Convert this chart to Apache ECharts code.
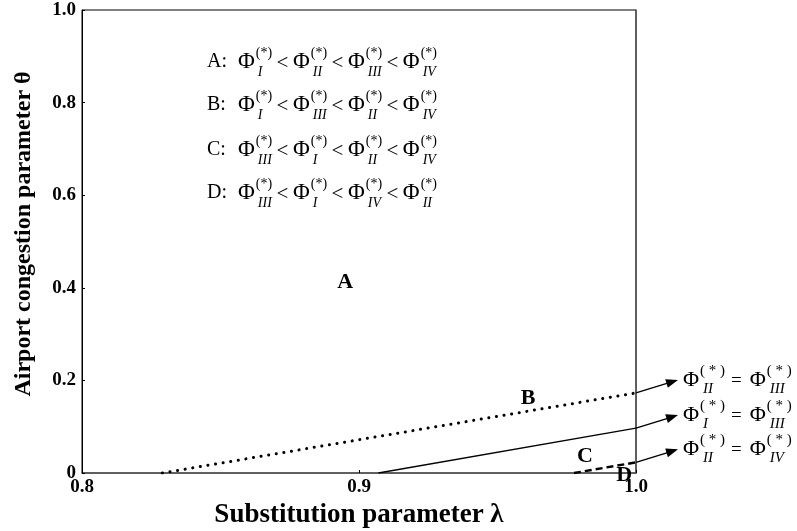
<!DOCTYPE html>
<html>
<head>
<meta charset="utf-8">
<script src="https://cdn.jsdelivr.net/npm/echarts@6/dist/echarts.min.js"></script>
<style>
  html, body { margin: 0; padding: 0; background: #fff; }
  #chart { width: 797px; height: 531px; }
</style>
</head>
<body>
<div id="chart"></div>
<script>
// Boundary curves in the (λ, θ) plane
const dottedLambda = [0.829, 1.0];
const dottedTheta = [0, 0.173];
const solidLambda = [0.907, 1.0];
const solidTheta = [0, 0.097];
const dashedLambda = [0.9776, 1.0];
const dashedTheta = [0, 0.023];

// Equality each boundary stands for: Φ_left = Φ_right
const boundaryLeftSub = ['II', 'I', 'II'];
const boundaryRightSub = ['III', 'III', 'IV'];

// Region labels and where they sit (data units)
const regionNames = ['A', 'B', 'C', 'D'];
const regionLambda = [0.895, 0.961, 0.9816, 0.9957];
const regionTheta = [0.4125, 0.162, 0.037, -0.006];

// Ordering of Φ in each region
const regionOrder = [
  ['I', 'II', 'III', 'IV'],
  ['I', 'III', 'II', 'IV'],
  ['III', 'I', 'II', 'IV'],
  ['III', 'I', 'IV', 'II']
];

// Axis ticks
const xTicks = [0.8, 0.9, 1.0];
const xTickLabels = ['0.8', '0.9', '1.0'];
const yTicks = [0, 0.2, 0.4, 0.6, 0.8, 1.0];
const yTickLabels = ['0', '0.2', '0.4', '0.6', '0.8', '1.0'];

const xTitle = 'Substitution parameter λ';
const yTitle = 'Airport congestion parameter θ';

const SERIF = '"Liberation Serif", "Times New Roman", serif';
const measureCtx = document.createElement('canvas').getContext('2d');
function textWidth(str, size, style, weight) {
  measureCtx.font = (style || 'normal') + ' ' + (weight || 'normal') + ' ' + size + 'px ' + SERIF;
  return measureCtx.measureText(str).width;
}
function txt(x, y, str, size, style, weight, align) {
  return {
    type: 'text', x: x, y: y, silent: true,
    style: {
      text: str, fontFamily: SERIF, fontSize: size, fontStyle: style || 'normal',
      fontWeight: weight || 'normal', fill: '#000', align: align || 'left', verticalAlign: 'middle'
    }
  };
}
// Φ with a stacked superscript/subscript; pushes elements, returns width
function phiTerm(x, cy, sub, cfg, out) {
  out.push(txt(x, cy, 'Φ', cfg.phi));
  const pw = textWidth('Φ', cfg.phi);
  const sx = x + pw + cfg.gap;
  out.push(txt(sx, cy + cfg.supDy, cfg.sup, cfg.script));
  out.push(txt(sx + cfg.subDx, cy + cfg.subDy, sub, cfg.script, 'italic'));
  const sw = Math.max(textWidth(cfg.sup, cfg.script), cfg.subDx + textWidth(sub, cfg.script, 'italic'));
  return pw + cfg.gap + sw;
}

// Region ordering block
const legendCfg = { phi: 23, script: 14, sup: '(*)', gap: 1, supDy: -9, subDy: 10, subDx: 2 };
const legendRowsY = [62, 105, 150, 193];
const legendTagX = 207, legendPhiX = 238, legendEndX = 437, ltSize = 21;
const legendElements = [];
regionOrder.forEach(function (order, r) {
  const cy = legendRowsY[r];
  legendElements.push(txt(legendTagX, cy, regionNames[r] + ':', 20));
  const widths = order.map(function (s) { return phiTerm(-1000, 0, s, legendCfg, []); });
  const ltW = textWidth('<', ltSize);
  const total = widths.reduce(function (a, b) { return a + b; }, 0) + 3 * ltW;
  const pad = (legendEndX - legendPhiX - total) / 6;
  let x = legendPhiX;
  order.forEach(function (s, i) {
    x += phiTerm(x, cy, s, legendCfg, legendElements);
    if (i < order.length - 1) {
      x += pad;
      legendElements.push(txt(x, cy + 1, '<', ltSize));
      x += ltW + pad;
    }
  });
});

// Vertical axis title
const yTitleEl = txt(0, 0, yTitle, 24, 'normal', 'bold', 'center');
yTitleEl.x = 24; yTitleEl.y = 234; yTitleEl.rotation = Math.PI / 2;
legendElements.push(yTitleEl);

// Labels next to the arrows
const sideCfg = { phi: 22, script: 15, sup: '( * )', gap: 1, supDy: -9, subDy: 9, subDx: 3 };
const arrowOffset = [42, -13];

const chart = echarts.init(document.getElementById('chart'), null, { renderer: 'canvas' });

function pairs(xs, ys) { return xs.map(function (x, i) { return [x, ys[i]]; }); }
function tickFmt(ticks, labels) {
  return function (v) {
    for (let i = 0; i < ticks.length; i++) if (Math.abs(ticks[i] - v) < 1e-9) return labels[i];
    return '';
  };
}
const axisFont = { fontFamily: SERIF, fontWeight: 'bold', fontSize: 19, color: '#000' };

const option = {
  animation: false,
  backgroundColor: '#fff',
  grid: {
    left: 82, right: 161, top: 10, bottom: 58, containLabel: false, outerBoundsMode: 'none',
    show: true, borderColor: '#000', borderWidth: 1
  },
  xAxis: {
    type: 'value', min: xTicks[0], max: xTicks[xTicks.length - 1], interval: 0.1,
    name: xTitle, nameLocation: 'middle', nameGap: 23,
    nameTextStyle: { fontFamily: SERIF, fontWeight: 'bold', fontSize: 27, color: '#000' },
    axisLine: { show: true, onZero: false, lineStyle: { color: '#555', width: 1.5 } },
    axisTick: { show: true, inside: true, length: 3, lineStyle: { color: '#000' } },
    axisLabel: Object.assign({ formatter: tickFmt(xTicks, xTickLabels), margin: 5 }, axisFont),
    splitLine: { show: false }
  },
  yAxis: [{
    type: 'value', min: yTicks[0], max: yTicks[yTicks.length - 1], interval: 0.2,
    axisLine: { show: true, lineStyle: { color: '#000', width: 1 } },
    axisTick: { show: true, inside: true, length: 3, lineStyle: { color: '#000' } },
    axisLabel: Object.assign({ formatter: tickFmt(yTicks, yTickLabels), margin: 6 }, axisFont),
    splitLine: { show: false }
  }, {
    type: 'value', position: 'right', min: 0, max: 1, interval: 0.2,
    axisLine: { show: true, lineStyle: { color: '#555', width: 1.5 } },
    axisTick: { show: false }, axisLabel: { show: false }, splitLine: { show: false }
  }],
  graphic: legendElements,
  series: [
    {
      type: 'line', data: pairs(dottedLambda, dottedTheta), symbol: 'none', silent: true,
      lineStyle: { color: '#000', width: 3, type: [0.1, 7.6], cap: 'round' }
    },
    {
      type: 'line', data: pairs(solidLambda, solidTheta), symbol: 'none', silent: true,
      lineStyle: { color: '#000', width: 1.4 }
    },
    {
      type: 'line', data: pairs(dashedLambda, dashedTheta), symbol: 'none', silent: true,
      lineStyle: { color: '#000', width: 2.4, type: [7, 4] }
    },
    {
      // arrows from each boundary's end to its equality label
      type: 'custom', coordinateSystem: 'cartesian2d', silent: true, clip: false,
      data: [
        [dottedLambda[1], dottedTheta[1]],
        [solidLambda[1], solidTheta[1]],
        [dashedLambda[1], dashedTheta[1]]
      ],
      renderItem: function (params, api) {
        const i = params.dataIndex;
        const p = api.coord([api.value(0), api.value(1)]);
        const t = [p[0] + arrowOffset[0], p[1] + arrowOffset[1]];
        const dx = t[0] - p[0], dy = t[1] - p[1];
        const len = Math.sqrt(dx * dx + dy * dy);
        const ux = dx / len, uy = dy / len, nx = -uy, ny = ux;
        const hl = 12, hw = 4.5;
        const bx = t[0] - ux * hl, by = t[1] - uy * hl;
        const children = [
          { type: 'line', shape: { x1: p[0], y1: p[1], x2: bx + ux * 2, y2: by + uy * 2 },
            style: { stroke: '#000', lineWidth: 1.4 } },
          { type: 'polygon', shape: { points: [t, [bx + nx * hw, by + ny * hw], [bx - nx * hw, by - ny * hw]] },
            style: { fill: '#000' } }
        ];
        let x = t[0] + 5;
        const cy = t[1];
        x += phiTerm(x, cy, boundaryLeftSub[i], sideCfg, children);
        x += 6;
        children.push(txt(x, cy + 1, '=', 19));
        x += textWidth('=', 19) + 8;
        phiTerm(x, cy, boundaryRightSub[i], sideCfg, children);
        return { type: 'group', children: children };
      }
    },
    {
      // region letters
      type: 'custom', coordinateSystem: 'cartesian2d', silent: true, clip: false,
      data: regionNames.map(function (n, i) { return [regionLambda[i], regionTheta[i]]; }),
      renderItem: function (params, api) {
        const p = api.coord([api.value(0), api.value(1)]);
        return txt(p[0], p[1], regionNames[params.dataIndex], 22, 'normal', 'bold', 'center');
      }
    }
  ]
};
chart.setOption(option);
</script>
</body>
</html>
